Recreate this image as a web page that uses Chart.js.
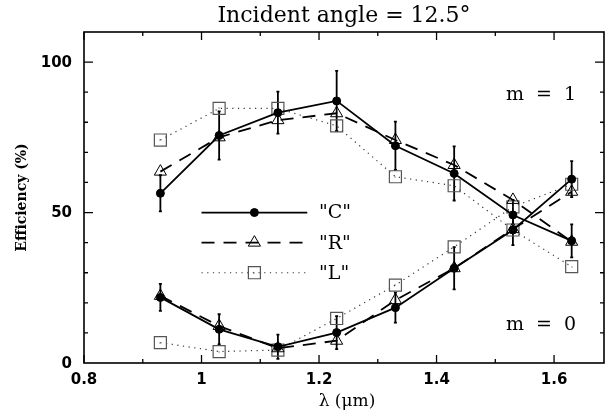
<!DOCTYPE html>
<html>
<head>
<meta charset="UTF-8">
<title>Incident angle = 12.5°</title>
<script src="https://cdn.jsdelivr.net/npm/chart.js"></script>
<style>
    body { margin: 0; background: #fff; }
    #wrap { width: 605px; height: 415px; }
</style>
</head>
<body>
<div id="wrap"><canvas id="effChart"></canvas></div>
<script>
// wavelengths (um)
const lam = [0.93, 1.03, 1.13, 1.23, 1.33, 1.43, 1.53, 1.63];

// efficiency (%) for first order, m = 1
const cM1 = [56.4, 75.6, 83.2, 87.1, 72.2, 63.0, 49.2, 40.6];
const cM1Err = [6, 8, 7, 10, 8, 9, 5, 5.5];
const rM1 = [63.6, 75.0, 80.7, 83.0, 74.1, 65.8, 54.2, 40.3];
const lM1 = [74.1, 84.6, 84.6, 78.8, 61.9, 58.9, 44.2, 32.0];

// zeroth order, m = 0
const cM0 = [21.8, 11.2, 5.4, 10.1, 18.4, 31.5, 44.2, 61.1];
const cM0Err = [4.5, 5, 4, 5.5, 5, 7, 5, 6];
const rM0 = [22.3, 12.3, 4.9, 7.4, 20.9, 31.5, 44.5, 56.9];
const lM0 = [6.8, 3.8, 4.3, 14.8, 25.9, 38.6, 51.9, 59.4];

const xTicks = [0.8, 1, 1.2, 1.4, 1.6];
const xTickLabels = ['0.8', '1', '1.2', '1.4', '1.6'];
const yTicks = [0, 50, 100];
const yTickLabels = ['0', '50', '100'];

const seriesNames = ['"C"', '"R"', '"L"'];

function pts(ys) {
    return lam.map((x, i) => ({ x: x, y: ys[i] }));
}

// key drawn inside the plot: short line with marker in the middle
function keyLine(y) {
    return [{ x: 1.0, y: y }, { x: 1.09, y: y }, { x: 1.18, y: y }];
}

const solid = { borderColor: '#000', borderWidth: 1.8, pointStyle: 'circle', pointRadius: 4,
    pointBackgroundColor: '#000', pointBorderColor: '#000', pointBorderWidth: 1 };
const dashed = { borderColor: '#000', borderWidth: 1.8, borderDash: [13, 9], pointStyle: 'triangle',
    pointRadius: 7, pointBackgroundColor: 'rgba(0,0,0,0)', pointBorderColor: '#000', pointBorderWidth: 1 };
const dotted = { borderColor: '#333', borderWidth: 1.2, borderDash: [1.2, 4.5], pointStyle: 'rect',
    pointRadius: 8.5, pointBackgroundColor: 'rgba(0,0,0,0)', pointBorderColor: '#555', pointBorderWidth: 1.2 };

const datasets = [
    Object.assign({ label: 'C m1', data: pts(cM1), err: cM1Err }, solid),
    Object.assign({ label: 'C m0', data: pts(cM0), err: cM0Err }, solid),
    Object.assign({ label: 'C key', data: keyLine(50) }, solid, { pointRadius: [0, 4, 0] }),
    Object.assign({ label: 'R m1', data: pts(rM1) }, dashed),
    Object.assign({ label: 'R m0', data: pts(rM0) }, dashed),
    Object.assign({ label: 'R key', data: keyLine(40) }, dashed, { pointRadius: [0, 7, 0] }),
    Object.assign({ label: 'L m1', data: pts(lM1), dotted: true }, dotted),
    Object.assign({ label: 'L m0', data: pts(lM0), dotted: true }, dotted),
    Object.assign({ label: 'L key', data: keyLine(30), dotted: true }, dotted, { pointRadius: [0, 8.5, 0] })
];
datasets.forEach(d => { d.showLine = true; d.fill = false; d.tension = 0; });

const decor = {
    id: 'decor',
    beforeDatasetsDraw(chart) {
        const ctx = chart.ctx, xs = chart.scales.x, ys = chart.scales.y;
        ctx.save();
        ctx.strokeStyle = '#000';
        ctx.lineWidth = 1.8;
        chart.data.datasets.forEach(ds => {
            if (!ds.err) return;
            ds.data.forEach((p, i) => {
                const px = xs.getPixelForValue(p.x);
                const top = ys.getPixelForValue(p.y + ds.err[i]);
                const bot = ys.getPixelForValue(p.y - ds.err[i]);
                ctx.beginPath();
                ctx.moveTo(px, top); ctx.lineTo(px, bot);
                ctx.moveTo(px - 1.5, top); ctx.lineTo(px + 1.5, top);
                ctx.moveTo(px - 1.5, bot); ctx.lineTo(px + 1.5, bot);
                ctx.stroke();
            });
        });
        ctx.restore();
    },
    afterDraw(chart) {
        const ctx = chart.ctx, a = chart.chartArea;
        const xs = chart.scales.x, ys = chart.scales.y;
        ctx.save();

        // small dot in the centre of each square marker
        ctx.fillStyle = '#333';
        chart.data.datasets.forEach((ds, di) => {
            if (!ds.dotted) return;
            chart.getDatasetMeta(di).data.forEach((el, i) => {
                const r = Array.isArray(ds.pointRadius) ? ds.pointRadius[i] : ds.pointRadius;
                if (r > 0) ctx.fillRect(Math.round(el.x) - 0.5, Math.round(el.y) - 0.5, 1, 1);
            });
        });

        // frame
        ctx.strokeStyle = '#000';
        ctx.lineWidth = 1.6;
        ctx.strokeRect(a.left, a.top, a.right - a.left, a.bottom - a.top);

        // inward ticks on all four sides
        ctx.lineWidth = 1.3;
        ctx.beginPath();
        for (let v = 0.8; v < xs.max + 1e-9; v += 0.1) {
            const px = xs.getPixelForValue(v);
            const major = Math.abs(v * 5 - Math.round(v * 5)) < 1e-6;
            const len = major ? 8 : 4;
            ctx.moveTo(px, a.bottom); ctx.lineTo(px, a.bottom - len);
            ctx.moveTo(px, a.top); ctx.lineTo(px, a.top + len);
        }
        for (let v = 10; v < ys.max - 1e-9; v += 10) {
            const py = ys.getPixelForValue(v);
            const len = v % 50 === 0 ? 9 : 4;
            ctx.moveTo(a.left, py); ctx.lineTo(a.left + len, py);
            ctx.moveTo(a.right, py); ctx.lineTo(a.right - len, py);
        }
        ctx.stroke();

        // tick labels
        ctx.fillStyle = '#000';
        ctx.font = 'bold 15px "DejaVu Sans"';
        ctx.textAlign = 'center';
        ctx.textBaseline = 'middle';
        xTicks.forEach((v, i) => ctx.fillText(xTickLabels[i], xs.getPixelForValue(v), 380));
        ctx.textAlign = 'right';
        yTicks.forEach((v, i) => ctx.fillText(yTickLabels[i], a.left - 12, ys.getPixelForValue(v) + 1));

        // title and axis titles
        ctx.textAlign = 'center';
        ctx.textBaseline = 'alphabetic';
        ctx.font = '22px "DejaVu Serif"';
        ctx.fillText('Incident angle = 12.5°', (a.left + a.right) / 2, 22);
        ctx.textBaseline = 'middle';
        ctx.font = '17px "DejaVu Serif"';
        ctx.fillText('λ (μm)', (a.left + a.right) / 2 + 3, 402);
        ctx.save();
        ctx.translate(22, (a.top + a.bottom) / 2);
        ctx.rotate(-Math.PI / 2);
        ctx.font = 'bold 14px "DejaVu Serif"';
        ctx.fillText('Efficiency (%)', 0, 0);
        ctx.restore();

        // order labels
        ctx.textAlign = 'left';
        ctx.font = '19px "DejaVu Serif"';
        ctx.fillText('m  =  1', 506, 95);
        ctx.fillText('m  =  0', 506, 325);

        // key labels
        ctx.font = '19px "DejaVu Serif"';
        [50, 40, 30].forEach((v, i) => ctx.fillText(seriesNames[i], xs.getPixelForValue(1.2), ys.getPixelForValue(v) + 1));

        ctx.restore();
    }
};

new Chart(document.getElementById('effChart'), {
    type: 'scatter',
    data: { datasets: datasets },
    options: {
        responsive: true,
        maintainAspectRatio: false,
        devicePixelRatio: 1,
        animation: false,
        layout: { autoPadding: false, padding: { left: 84, top: 32, right: 1, bottom: 52 } },
        scales: {
            x: { type: 'linear', display: false, min: 0.8, max: 1.685 },
            y: { type: 'linear', display: false, min: 0, max: 110 }
        },
        plugins: {
            legend: { display: false },
            tooltip: { enabled: false }
        }
    },
    plugins: [decor]
});
</script>
</body>
</html>
